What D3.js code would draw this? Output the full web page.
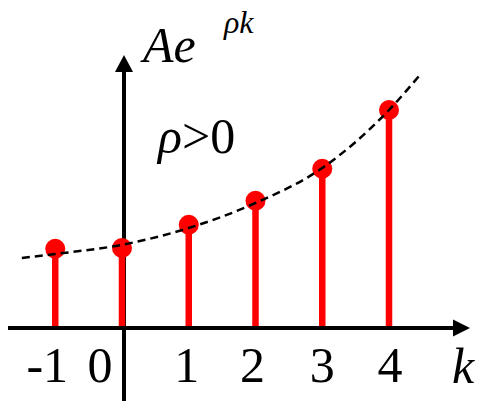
<!DOCTYPE html>
<html>
<head>
<meta charset="utf-8">
<script src="https://cdn.jsdelivr.net/npm/d3@7"></script>
<style>
  body { margin: 0; background: #fff; }
</style>
</head>
<body>
<script>
const m = {
    width: 479,
    height: 401
}

// samples A e^(rho k)
const ks = [-1, 0, 1, 2, 3, 4]
const values = [0.99, 1.0, 1.29, 1.59, 1.99, 2.725]

// dashed envelope, points
const curveK = [-1.5, -1, 0, 1, 2, 3, 4, 4.49]
const curveV = [0.875, 0.925, 1.04, 1.25, 1.5625, 2.0, 2.725, 3.19]

const tickLabels = ['-1', '0', '1', '2', '3', '4']
const tickShift = [-8, -22, -2, -3, 0, 1]

const x = d3.scaleLinear().domain([0, 4]).range([122, 389])
const y = d3.scaleLinear().domain([0, 1]).range([328, 248])

const svg = d3.select('body').append('svg')
    .attr('width', m.width)
    .attr('height', m.height)

const g = svg.append('g')

// x axis with arrow
g.append('line')
    .attr('x1', 8).attr('x2', 455)
    .attr('y1', y(0)).attr('y2', y(0))
    .attr('stroke', 'black').attr('stroke-width', 4)
g.append('path')
    .attr('d', `M453,${y(0) - 8.5}L470,${y(0)}L453,${y(0) + 8.5}Z`)
    .attr('fill', 'black')

// y axis with arrow
const ax = x(0) + 2
g.append('line')
    .attr('x1', ax).attr('x2', ax)
    .attr('y1', 401).attr('y2', 70)
    .attr('stroke', 'black').attr('stroke-width', 4)
g.append('path')
    .attr('d', `M${ax - 9},72L${ax},55L${ax + 9},72Z`)
    .attr('fill', 'black')

// stems
const pts = ks.map((k, i) => ({ k: k, v: values[i] }))
g.selectAll('.stem')
    .data(pts)
    .enter()
    .append('line')
        .attr('class', 'stem')
        .attr('x1', d => x(d.k)).attr('x2', d => x(d.k))
        .attr('y1', y(0) - 2).attr('y2', d => y(d.v))
        .attr('stroke', '#ff0000')
        .attr('stroke-width', 6.5)

g.selectAll('.dot')
    .data(pts)
    .enter()
    .append('circle')
        .attr('class', 'dot')
        .attr('cx', d => x(d.k))
        .attr('cy', d => y(d.v))
        .attr('r', 10)
        .attr('fill', '#ff0000')

// dashed curve
const line = d3.line()
    .x(d => x(d[0]))
    .y(d => y(d[1]))
    .curve(d3.curveMonotoneX)
g.append('path')
    .datum(curveK.map((k, i) => [k, curveV[i]]))
    .attr('d', line)
    .attr('fill', 'none')
    .attr('stroke', 'black')
    .attr('stroke-width', 2.5)
    .attr('stroke-dasharray', '8,5')

// all text in Times-like serif
function serif(sel, size, italic) {
    sel.style('font-family', 'Liberation Serif', 'important')
        .style('font-size', size + 'px', 'important')
        .style('font-style', italic ? 'italic' : 'normal', 'important')
    return sel
}

// tick labels
g.selectAll('.klabel')
    .data(tickLabels)
    .enter()
    .append('text')
        .attr('class', 'klabel')
        .attr('x', (d, i) => x(ks[i]) + tickShift[i])
        .attr('y', 382)
        .attr('text-anchor', 'middle')
        .call(serif, 50, false)
        .text(d => d)

// axis names
g.append('text')
    .attr('x', 452).attr('y', 383)
    .call(serif, 50, true)
    .text('k')

const yl = g.append('text')
    .attr('x', 143).attr('y', 62)
    .call(serif, 50, true)
yl.append('tspan').text('Ae')
yl.append('tspan')
    .attr('x', 224).attr('y', 33)
    .call(serif, 32, true)
    .text('ρk')

const cond = g.append('text')
    .attr('x', 158).attr('y', 153)
    .call(serif, 50, false)
cond.append('tspan').call(serif, 50, true).text('ρ')
cond.append('tspan').call(serif, 50, false).text('>0')
</script>
</body>
</html>
